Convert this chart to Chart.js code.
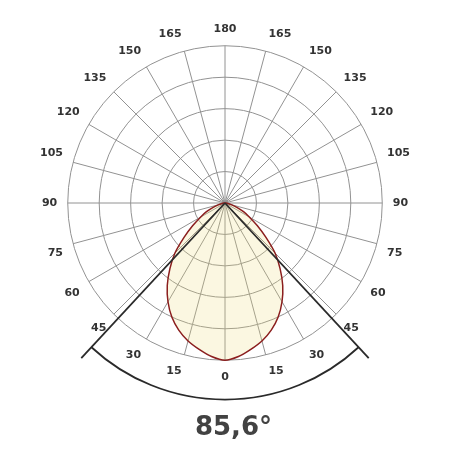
<!DOCTYPE html>
<html>
<head>
<meta charset="utf-8">
<script src="https://cdn.jsdelivr.net/npm/chart.js@4/dist/chart.umd.min.js"></script>
<style>
  html, body { margin: 0; padding: 0; background: #ffffff; }
  #wrap { position: relative; width: 450px; height: 450px; }
  #beam {
    position: absolute; left: 0; top: 411px; width: 467px;
    text-align: center; font-family: 'DejaVu Sans', sans-serif; font-weight: bold;
    font-size: 26px; line-height: 30px; color: #424242;
  }
</style>
</head>
<body>
<div id="wrap">
  <canvas id="c" width="450" height="450"></canvas>
  <div id="beam"></div>
</div>
<script>
// Tick labels around the diagram (every 15 degrees, starting at the bottom, going clockwise)
const tickLabels = ['0','15','30','45','60','75','90','105','120','135','150','165',
                    '180','165','150','135','120','105','90','75','60','45','30','15'];
// Gamma angles (degrees from nadir) and the relative intensity (symmetric)
const gammaDeg  = [0, 5, 10, 15, 20, 25, 30, 35, 40, 45, 50, 55, 60, 65, 70, 75, 80, 85, 90];
const intensity = [1.000, 0.980, 0.945, 0.908, 0.860, 0.800, 0.725, 0.640, 0.545, 0.450,
                   0.340, 0.250, 0.180, 0.130, 0.080, 0.045, 0.020, 0.005, 0.000];
// Beam angle (full angle at 50 % intensity)
const beamAngle = 85.6;
// Ring values of the radial scale
const ringStep = 0.2;
const ringMax = 1.0;

const stepDeg = 5;
const count = 360 / stepDeg;
const labels = [];
const values = [];
for (let i = 0; i < count; i++) {
  const deg = i * stepDeg;
  labels.push(deg % 15 === 0 ? tickLabels[deg / 15] : '');
  const g = deg <= 180 ? deg : 360 - deg;
  const k = gammaDeg.indexOf(g);
  values.push(k >= 0 ? intensity[k] : 0);
}

document.getElementById('beam').textContent = beamAngle.toFixed(1).replace('.', ',') + '°';

const beamPlugin = {
  id: 'beamPlugin',
  afterDatasetsDraw(chart) {
    const s = chart.scales.r;
    const ctx = chart.ctx;
    const cx = s.xCenter, cy = s.yCenter;
    const rArc = s.getDistanceFromCenterForValue(1.25);
    const rLine = s.getDistanceFromCenterForValue(1.345);
    const half = beamAngle / 2 * Math.PI / 180;
    ctx.save();
    ctx.strokeStyle = '#2a2a2a';
    ctx.lineWidth = 1.8;
    ctx.beginPath();
    ctx.arc(cx, cy, rArc, Math.PI / 2 - half, Math.PI / 2 + half);
    ctx.stroke();
    [-1, 1].forEach(sgn => {
      const a = Math.PI / 2 + sgn * half;
      ctx.beginPath();
      ctx.moveTo(cx, cy);
      ctx.lineTo(cx + Math.cos(a) * rLine, cy + Math.sin(a) * rLine);
      ctx.stroke();
    });
    ctx.restore();
  }
};

new Chart(document.getElementById('c'), {
  type: 'radar',
  data: {
    labels: labels,
    datasets: [{
      data: values,
      borderColor: '#8b1e1e',
      borderWidth: 1.5,
      backgroundColor: 'rgba(238,220,120,0.22)',
      fill: true,
      pointRadius: 0,
      tension: 0.3
    }]
  },
  options: {
    responsive: false,
    animation: false,
    layout: { padding: { left: 40, right: 40, top: 18, bottom: 62 } },
    plugins: { legend: { display: false }, tooltip: { enabled: false } },
    scales: {
      r: {
        min: 0,
        max: ringMax,
        startAngle: 180,
        ticks: { display: false, stepSize: ringStep },
        grid: { circular: true, color: '#929292', lineWidth: 1 },
        angleLines: {
          color: '#929292',
          lineWidth: (ctx) => (ctx.index % 3 === 0 ? 1 : 0)
        },
        pointLabels: {
          color: '#333333',
          padding: 10.5,
          font: { family: 'DejaVu Sans', weight: 'bold', size: 11 }
        }
      }
    }
  },
  plugins: [beamPlugin]
});
</script>
</body>
</html>
